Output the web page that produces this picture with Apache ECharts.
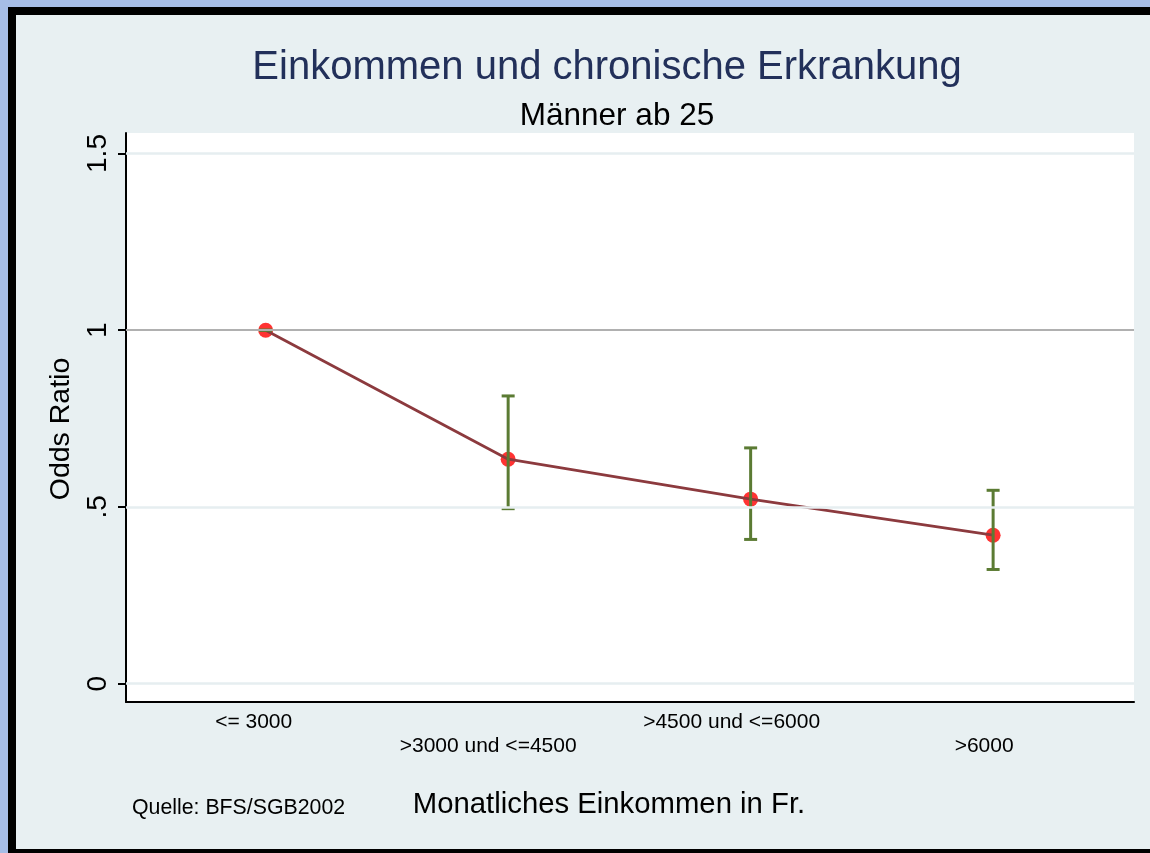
<!DOCTYPE html>
<html>
<head>
<meta charset="utf-8">
<script src="https://cdn.jsdelivr.net/npm/echarts@6/dist/echarts.min.js"></script>
<style>
  html, body { margin: 0; padding: 0; background: #a6bde6; }
  #frame {
    position: absolute; left: 8px; top: 7px; width: 1142px; height: 846px;
    box-sizing: border-box; background: #e8f0f2;
    border-left: 8px solid #000; border-top: 8px solid #000; border-bottom: 4px solid #000;
  }
  #chart { position: absolute; left: 0; top: 0; width: 1150px; height: 853px; }
</style>
</head>
<body>
<div id="frame"></div>
<div id="chart"></div>
<script>
  // Odds Ratio nach Einkommensklasse, mit Konfidenzintervall
  var categories = ['<= 3000', '>3000 und <=4500', '>4500 und <=6000', '>6000'];
  var xPositions = [1, 2, 3, 4];
  var oddsRatio = [1, 0.635, 0.522, 0.420];
  var ciLower = [1, 0.495, 0.408, 0.323];
  var ciUpper = [1, 0.814, 0.667, 0.547];
  var yTickValues = [0, 0.5, 1, 1.5];
  var yTickLabels = ['0', '.5', '1', '1.5'];
  var gridLineValues = [0, 0.5, 1.5];
  var refLineValue = 1;

  var font = '"Liberation Sans", Arial, sans-serif';
  var myChart = echarts.init(document.getElementById('chart'), null, {renderer: 'canvas'});

  var points = xPositions.map(function (x, i) { return [x, oddsRatio[i]]; });
  var bars = xPositions.map(function (x, i) { return [x, ciLower[i], ciUpper[i]]; });

  // Stata zentriert die Labels etwas nach links versetzt
  var labelShift = [24, 40, 38, 18];
  var richStyles = {};
  labelShift.forEach(function (p, i) {
    richStyles['r' + i] = {fontFamily: font, fontSize: 21, lineHeight: 24, color: '#000', padding: [0, p, 0, 0]};
  });

  var option = {
    backgroundColor: 'transparent',
    animation: false,
    grid: {
      left: 126, top: 133, right: 16, bottom: 151,
      show: true, backgroundColor: '#ffffff', borderWidth: 0
    },
    xAxis: {
      type: 'value',
      min: 0.424,
      max: 4.581,
      axisLine: {show: true, onZero: false, lineStyle: {color: '#000', width: 2}},
      axisTick: {show: false},
      splitLine: {show: false},
      axisLabel: {
        customValues: xPositions,
        margin: 8,
        color: '#000',
        fontFamily: font,
        fontSize: 21,
        lineHeight: 24,
        rich: richStyles,
        formatter: function (val) {
          var i = xPositions.indexOf(val);
          if (i < 0) return '';
          var txt = '{r' + i + '|' + categories[i] + '}';
          return i % 2 === 1 ? '\n' + txt : txt;
        }
      }
    },
    yAxis: {
      type: 'value',
      min: -0.052,
      max: 1.558,
      axisLine: {show: true, onZero: false, lineStyle: {color: '#000', width: 2}},
      axisTick: {show: true, customValues: yTickValues, length: 8, lineStyle: {color: '#000', width: 2}},
      splitLine: {show: false},
      axisLabel: {
        customValues: yTickValues,
        rotate: 90,
        margin: 14,
        color: '#000',
        fontFamily: font,
        fontSize: 28,
        formatter: function (val) {
          var i = yTickValues.indexOf(val);
          return i < 0 ? '' : yTickLabels[i];
        }
      }
    },
    graphic: [
      {type: 'text', silent: true,
        style: {text: 'Einkommen und chronische Erkrankung', x: 607, y: 68, align: 'center', verticalAlign: 'middle',
          fill: '#22305a', font: '40px ' + font}},
      {type: 'text', silent: true,
        style: {text: 'Männer ab 25', x: 617, y: 116, align: 'center', verticalAlign: 'middle',
          fill: '#000', font: '31.5px ' + font}},
      {type: 'text', silent: true, x: 61, y: 429, rotation: Math.PI / 2,
        style: {text: 'Odds Ratio', x: 0, y: 0, align: 'center', verticalAlign: 'middle',
          fill: '#000', font: '28.5px ' + font}},
      {type: 'text', silent: true,
        style: {text: 'Monatliches Einkommen in Fr.', x: 609, y: 805, align: 'center', verticalAlign: 'middle',
          fill: '#000', font: '29.3px ' + font}},
      {type: 'text', silent: true,
        style: {text: 'Quelle: BFS/SGB2002', x: 132, y: 808, align: 'left', verticalAlign: 'middle',
          fill: '#000', font: '21.3px ' + font}}
    ],
    series: [
      {
        name: 'grid',
        type: 'line',
        data: [],
        z: 1,
        silent: true,
        markLine: {
          silent: true,
          symbol: 'none',
          label: {show: false},
          animation: false,
          data: gridLineValues.map(function (v) {
            return {yAxis: v, lineStyle: {color: '#e6eef0', width: 2.5, type: 'solid'}};
          }).concat([{yAxis: refLineValue, lineStyle: {color: '#b0b0b0', width: 2, type: 'solid'}}])
        }
      },
      {
        name: 'punkte',
        type: 'scatter',
        data: points,
        z: 2,
        symbol: 'circle',
        symbolSize: 15,
        itemStyle: {color: '#ff0000'}
      },
      {
        name: 'linie',
        type: 'line',
        data: points,
        z: 3,
        showSymbol: false,
        lineStyle: {color: '#8c3a3e', width: 2.8}
      },
      {
        name: 'ci',
        type: 'custom',
        data: bars,
        z: 4,
        encode: {x: 0, y: [1, 2]},
        renderItem: function (params, api) {
          var x = api.value(0);
          var lo = api.coord([x, api.value(1)]);
          var hi = api.coord([x, api.value(2)]);
          var w = 6.5;
          var st = {stroke: '#5b7b33', lineWidth: 3};
          return {
            type: 'group',
            children: [
              {type: 'line', shape: {x1: lo[0], y1: lo[1], x2: hi[0], y2: hi[1]}, style: st},
              {type: 'line', shape: {x1: hi[0] - w, y1: hi[1], x2: hi[0] + w, y2: hi[1]}, style: st},
              {type: 'line', shape: {x1: lo[0] - w, y1: lo[1], x2: lo[0] + w, y2: lo[1]}, style: st}
            ]
          };
        }
      }
    ]
  };
  option && myChart.setOption(option);
</script>
</body>
</html>
